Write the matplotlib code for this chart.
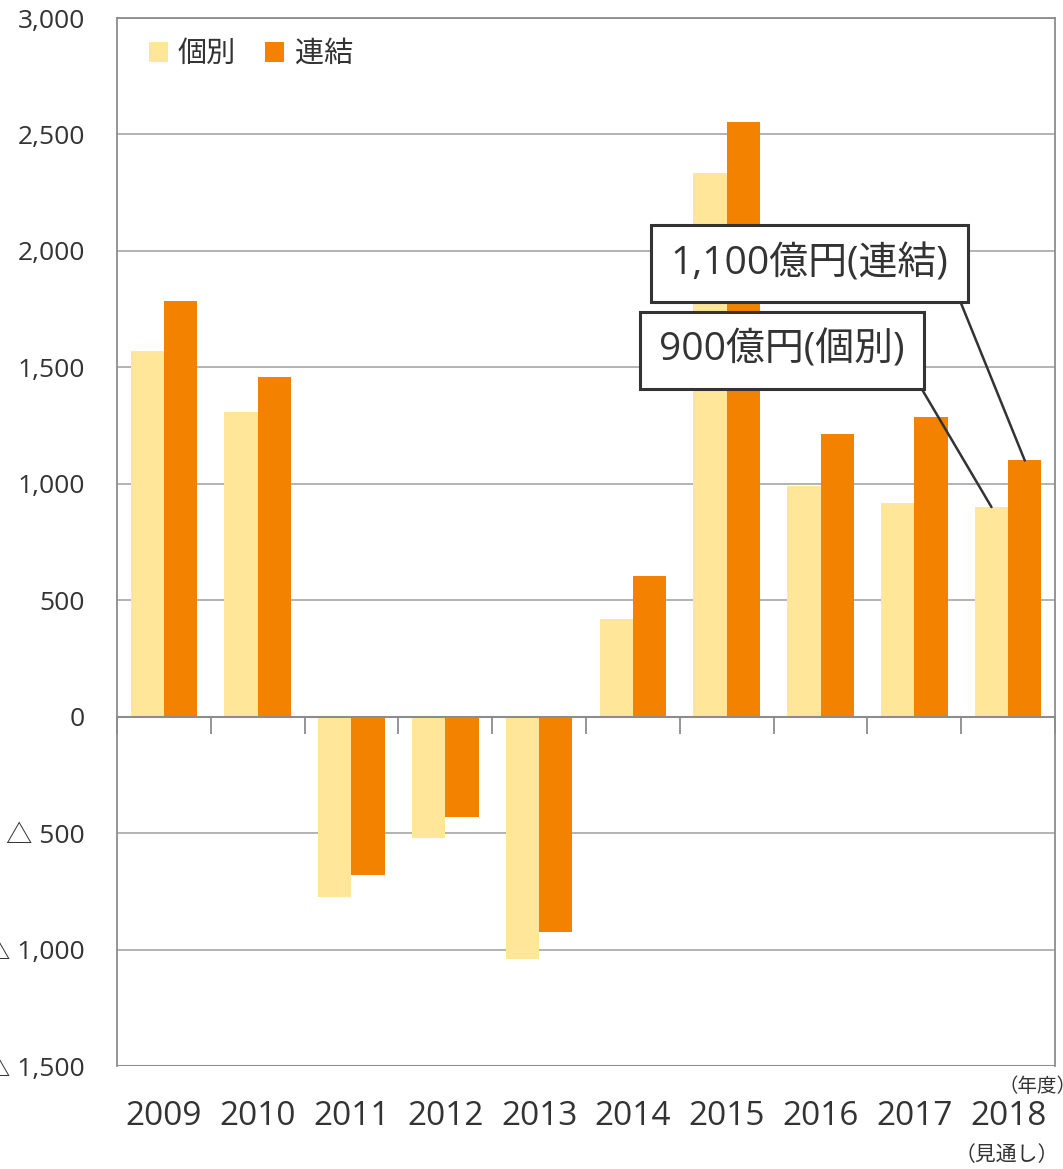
import numpy as np
import matplotlib
matplotlib.use("Agg")
import matplotlib.pyplot as plt
from matplotlib.transforms import blended_transform_factory

plt.rcParams['font.family'] = ['Open Sans', 'Noto Sans CJK JP', 'DejaVu Sans']

# ---- data (億円) ----
years = ["2009", "2010", "2011", "2012", "2013", "2014", "2015", "2016", "2017", "2018"]
kobetsu = [1570, 1310, -775, -522, -1042, 418, 2335, 992, 918, 900]
renketsu = [1785, 1460, -680, -432, -925, 602, 2555, 1215, 1285, 1100]
yticks = [-1500, -1000, -500, 0, 500, 1000, 1500, 2000, 2500, 3000]
ytick_labels = ["△ 1,500", "△ 1,000", "△ 500", "0", "500", "1,000",
                "1,500", "2,000", "2,500", "3,000"]

c_light = "#FFE699"
c_dark = "#F28200"
txt = "#333333"

fig = plt.figure(figsize=(10.63, 11.69), dpi=100)
ax = fig.add_axes([0.110, 0.0881, 0.8825, 0.8965])

x = np.arange(len(years))
w = 0.355
ax.bar(x - w / 2, kobetsu, w, color=c_light, label="個別", zorder=3)
ax.bar(x + w / 2, renketsu, w, color=c_dark, label="連結", zorder=3)

ax.set_xlim(-0.5, len(years) - 0.5)
ax.set_ylim(-1500, 3000)

# y axis
ax.set_yticks(yticks)
ax.set_yticklabels(ytick_labels, fontsize=19, color=txt)
ax.tick_params(axis="y", length=0, pad=23)
ax.yaxis.grid(True, color="#A6A6A6", linewidth=1.2, zorder=0)

# frame
for s in ["left", "right", "top"]:
    ax.spines[s].set_color("#8C8C8C")
    ax.spines[s].set_linewidth(1.3)
ax.spines["bottom"].set_position(("data", 0))
ax.spines["bottom"].set_color("#8C8C8C")
ax.spines["bottom"].set_linewidth(1.5)
ax.spines["bottom"].set_zorder(4)
ax.axhline(-1500, color="#8C8C8C", linewidth=1.5, zorder=4)

# category boundary ticks on the zero line
ax.set_xticks(np.arange(len(years) + 1) - 0.5)
ax.set_xticklabels([])
ax.tick_params(axis="x", direction="out", length=12, width=1.3, color="#8C8C8C")

# year labels below plot
tr = blended_transform_factory(ax.transData, ax.transAxes)
for xi, yr in zip(x, years):
    ax.text(xi, -0.048, yr, transform=tr, ha="center", va="center",
            fontsize=24, color=txt)
ax.text(x[-1] - 0.02, -0.085, "（見通し）", transform=tr, ha="center", va="center",
        fontsize=15, color=txt)
ax.text(0.981, -0.02, "（年度）", transform=ax.transAxes, ha="center", va="center",
        fontsize=14, color=txt, clip_on=False)

# legend
leg = ax.legend(loc="upper left", bbox_to_anchor=(0.006, 1.004), ncol=2, frameon=False,
                fontsize=21, handlelength=0.65, handleheight=0.65, handletextpad=0.35,
                columnspacing=1.0)
for t in leg.get_texts():
    t.set_color(txt)

# callouts for 2018
box = dict(boxstyle="square,pad=0.5", fc="white", ec="#333333", lw=2.2)
ax.annotate("1,100億円(連結)", xy=(x[-1] + w / 2, renketsu[-1]), xytext=(6.88, 1944),
            ha="center", va="center", fontsize=28, color=txt, bbox=box, zorder=6,
            arrowprops=dict(arrowstyle="-", color="#333333", lw=1.8,
                            relpos=(1.0, 0.3), shrinkA=0, shrinkB=0))
ax.annotate("900億円(個別)", xy=(x[-1] - w / 2, kobetsu[-1]), xytext=(6.59, 1571),
            ha="center", va="center", fontsize=28, color=txt, bbox=box, zorder=6,
            arrowprops=dict(arrowstyle="-", color="#333333", lw=1.8,
                            relpos=(1.0, 0.25), shrinkA=0, shrinkB=0))

fig.savefig("out.png", dpi=100)
